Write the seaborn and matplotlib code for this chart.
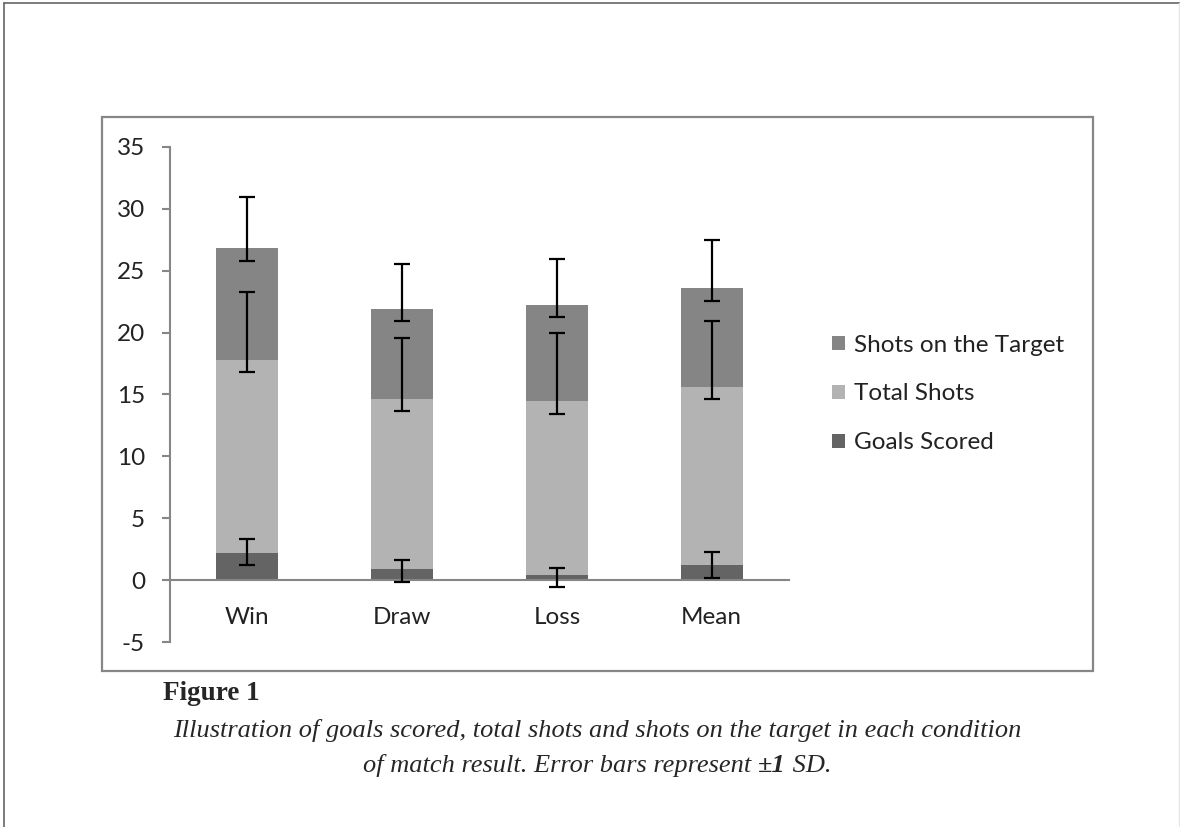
import numpy as np
import pandas as pd
import seaborn as sns
import matplotlib.pyplot as plt
from matplotlib.patches import Patch, Rectangle
from matplotlib.lines import Line2D
from matplotlib.ticker import FixedLocator

# values (stacked segments)
categories = ["Win", "Draw", "Loss", "Mean"]
goals_scored = [2.2, 0.9, 0.4, 1.2]
total_shots = [15.6, 13.7, 14.1, 14.4]
shots_on_target = [9.0, 7.3, 7.75, 8.0]

# error bar ends (low, high) for each series
goals_err_lo = [1.24, -0.16, -0.57, 0.16]
goals_err_hi = [3.31, 1.62, 1.02, 2.26]
total_err_lo = [16.8, 13.7, 13.45, 14.6]
total_err_hi = [23.3, 19.55, 20.0, 20.9]
target_err_lo = [25.8, 20.9, 21.25, 22.55]
target_err_hi = [30.9, 25.55, 25.9, 27.45]

series_names = ["Goals Scored", "Total Shots", "Shots on the Target"]
colors = ["#646464", "#b3b3b3", "#858585"]
grey = "#868686"

sns.set_style("white")
plt.rcParams["font.family"] = ["Lato", "DejaVu Sans"]
plt.rcParams["axes.unicode_minus"] = False

W, H = 1180, 827
fig = plt.figure(figsize=(W / 100, H / 100), dpi=100)
ax = fig.add_axes([170 / W, 1 - 642.3 / H, (789 - 170) / W, (642.3 - 146.7) / H])

# cumulative tops, drawn tallest first so the shorter bars sit in front
seg = np.array([goals_scored, total_shots, shots_on_target])
tops = np.cumsum(seg, axis=0)
for i in [2, 1, 0]:
    df = pd.DataFrame({"result": categories, "value": tops[i]})
    sns.barplot(data=df, x="result", y="value", order=categories, color=colors[i],
                saturation=1, width=0.4, errorbar=None, ax=ax, zorder=2, linewidth=0)

err_lo = [goals_err_lo, total_err_lo, target_err_lo]
err_hi = [goals_err_hi, total_err_hi, target_err_hi]
x = np.arange(len(categories))
for i in range(3):
    yerr = [tops[i] - np.array(err_lo[i]), np.array(err_hi[i]) - tops[i]]
    ax.errorbar(x, tops[i], yerr=yerr, fmt="none", ecolor="black",
                elinewidth=1.6, capsize=5.5, capthick=1.6, zorder=3)

ax.set_xlim(-0.5, 3.5)
ax.set_ylim(-5, 35)
ax.set_yticks(range(-5, 36, 5))
ax.set_xlabel("")
ax.set_ylabel("")

for s in ["top", "right"]:
    ax.spines[s].set_visible(False)
ax.spines["bottom"].set_position(("data", 0))
for s in ["left", "bottom"]:
    ax.spines[s].set_color(grey)
    ax.spines[s].set_linewidth(1.5)

ax.xaxis.set_minor_locator(FixedLocator(np.arange(-0.5, 3.6, 1)))
ax.tick_params(axis="x", which="major", length=0, pad=19, labelsize=17.5, labelcolor="#222222")
ax.tick_params(axis="x", which="minor", length=6, width=1.5, color=grey, direction="out")
ax.tick_params(axis="y", length=6, width=1.5, color=grey, direction="out", pad=12,
               labelsize=17.5, labelcolor="#222222", left=True)

handles = [Patch(facecolor=colors[i], edgecolor="none", label=series_names[i]) for i in [2, 1, 0]]
fig.legend(handles=handles, loc="center left", bbox_to_anchor=(832 / W, 1 - 394 / H),
           frameon=False, fontsize=17.5, handlelength=0.55, handleheight=0.55,
           handletextpad=0.35, labelspacing=1.15, borderpad=0, borderaxespad=0,
           labelcolor="#222222")

# chart frame and page frame
fig.add_artist(Rectangle((102 / W, 1 - 671 / H), (1093 - 102) / W, (671 - 117) / H,
                         transform=fig.transFigure, fill=False, edgecolor=grey, linewidth=1.6))
fig.add_artist(Line2D([4 / W, 4 / W], [0, 1 - 3 / H], transform=fig.transFigure, color="#666666", lw=1.2))
fig.add_artist(Line2D([4 / W, 1], [1 - 3 / H, 1 - 3 / H], transform=fig.transFigure, color="#666666", lw=1.2))
fig.add_artist(Line2D([1179 / W, 1179 / W], [0, 1 - 3 / H], transform=fig.transFigure, color="#e6e6e6", lw=1))

# caption
serif = ["Liberation Serif", "DejaVu Serif"]
fig.text(163 / W, 1 - 693 / H, "Figure 1", family=serif, fontweight="bold", fontsize=19.5,
         va="center", ha="left")
fig.text(597 / W, 1 - 730 / H,
         "Illustration of goals scored, total shots and shots on the target in each condition",
         family=serif, style="italic", fontsize=19, va="center", ha="center")

pieces = [("of match result. Error bars represent ", "normal"), ("\u00b11", "bold"), (" SD.", "normal")]
fig.canvas.draw()
renderer = fig.canvas.get_renderer()
texts = []
for s, w in pieces:
    t = fig.text(0, 1 - 765 / H, s, family=serif, style="italic", fontweight=w, fontsize=19,
                 va="baseline", ha="left")
    texts.append(t)
widths = [t.get_window_extent(renderer).width for t in texts]
x0 = 597 - sum(widths) / 2
for t, w in zip(texts, widths):
    t.set_x(x0 / W)
    t.set_y(1 - 772 / H)
    x0 += w

fig.savefig("out.png", dpi=100)
